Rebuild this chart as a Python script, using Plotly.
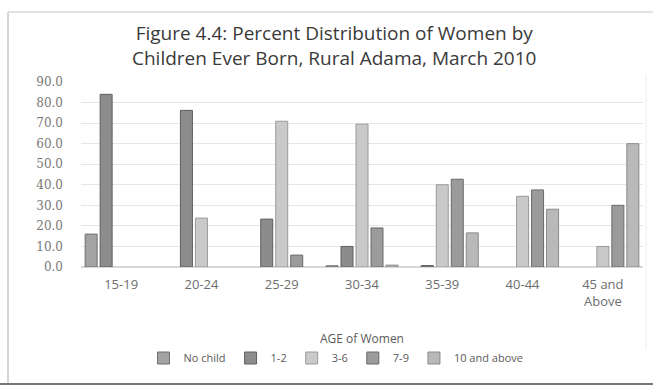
import plotly.graph_objects as go

# Age groups of women (x categories)
age_groups = ["15-19", "20-24", "25-29", "30-34", "35-39", "40-44", "45 and<br>Above"]

# Percent of women in each age group by number of children ever born
# (None = no women in that group with that number of children)
no_child = [16.0, None, None, 0.6, None, None, None]
one_two = [84.0, 76.2, 23.3, 10.0, 0.7, None, None]
three_six = [None, 23.8, 70.9, 69.5, 40.0, 34.4, 10.0]
seven_nine = [None, None, 5.8, 19.0, 42.7, 37.5, 30.0]
ten_above = [None, None, None, 0.9, 16.6, 28.1, 60.0]

series_names = ["No child", "1-2", "3-6", "7-9", "10 and above"]
series_values = [no_child, one_two, three_six, seven_nine, ten_above]
fill_colors = ["#a3a3a3", "#8c8c8c", "#c9c9c9", "#9b9b9b", "#b9b9b9"]
edge_colors = ["#6e6e6e", "#5e5e5e", "#9a9a9a", "#6a6a6a", "#8a8a8a"]

title_text = ("Figure 4.4: Percent Distribution of Women by<br>"
              "Children Ever Born, Rural Adama, March 2010")

y_ticks = [0, 10, 20, 30, 40, 50, 60, 70, 80, 90]

fig = go.Figure()
for name, vals, fc, ec in zip(series_names, series_values, fill_colors, edge_colors):
    fig.add_trace(go.Bar(
        name=name, x=age_groups, y=vals,
        marker=dict(color=fc, line=dict(color=ec, width=1)),
    ))

W, H = 653, 385
L, R, T, B = 81, 10, 82, 118
pw, ph = W - L - R, H - T - B


def px_x(px):
    return (px - L) / pw


def px_y(py):
    return (H - B - py) / ph


fig.update_layout(
    width=W, height=H,
    margin=dict(l=L, r=R, t=T, b=B),
    paper_bgcolor="white", plot_bgcolor="white",
    barmode="group", bargap=0.066, bargroupgap=0.2,
    annotations=[dict(
        text=title_text, xref="paper", yref="paper",
        x=px_x(334), y=px_y(45), xanchor="center", yanchor="middle",
        showarrow=False,
        font=dict(family="Open Sans, sans-serif", size=19, color="#3a3a3a"),
    )],
    font=dict(family="Open Sans, sans-serif", size=12, color="#666666"),
    xaxis=dict(
        showline=False, ticks="", ticklabelstandoff=8,
        tickfont=dict(family="Open Sans, sans-serif", size=13, color="#6e6e6e"),
        title=dict(text="AGE of Women",
                   font=dict(family="Open Sans, sans-serif", size=12, color="#5a5a5a"),
                   standoff=25),
    ),
    yaxis=dict(
        range=[0, 90], tickvals=y_ticks,
        ticktext=[f"{v:.1f}" for v in y_ticks],
        tickfont=dict(family="DejaVu Serif, serif", size=12, color="#777777"),
        showgrid=True, gridcolor="#e6e6e6", gridwidth=1,
        zeroline=True, zerolinecolor="#d8d8d8", ticklabelstandoff=17,
    ),
    legend=dict(
        orientation="h", x=px_x(336), xanchor="center",
        y=px_y(358), yanchor="middle",
        font=dict(family="Open Sans, sans-serif", size=11, color="#5a5a5a"),
        itemwidth=30, traceorder="normal",
    ),
    shapes=[
        # chart frame
        dict(type="line", xref="paper", yref="paper",
             x0=px_x(8), x1=px_x(8), y0=px_y(12), y1=px_y(385),
             line=dict(color="#c8c8c8", width=1.5)),
        dict(type="line", xref="paper", yref="paper",
             x0=px_x(8), x1=px_x(653), y0=px_y(12), y1=px_y(12),
             line=dict(color="#d8d8d8", width=1.5)),
        # plot area right edge
        dict(type="line", xref="paper", yref="paper",
             x0=px_x(646), x1=px_x(646), y0=px_y(75), y1=px_y(350),
             line=dict(color="#eeeeee", width=1)),
        dict(type="line", xref="paper", yref="paper",
             x0=px_x(0), x1=px_x(653), y0=px_y(384), y1=px_y(384),
             line=dict(color="#777777", width=2)),
    ],
)

fig.write_html("out.html")
